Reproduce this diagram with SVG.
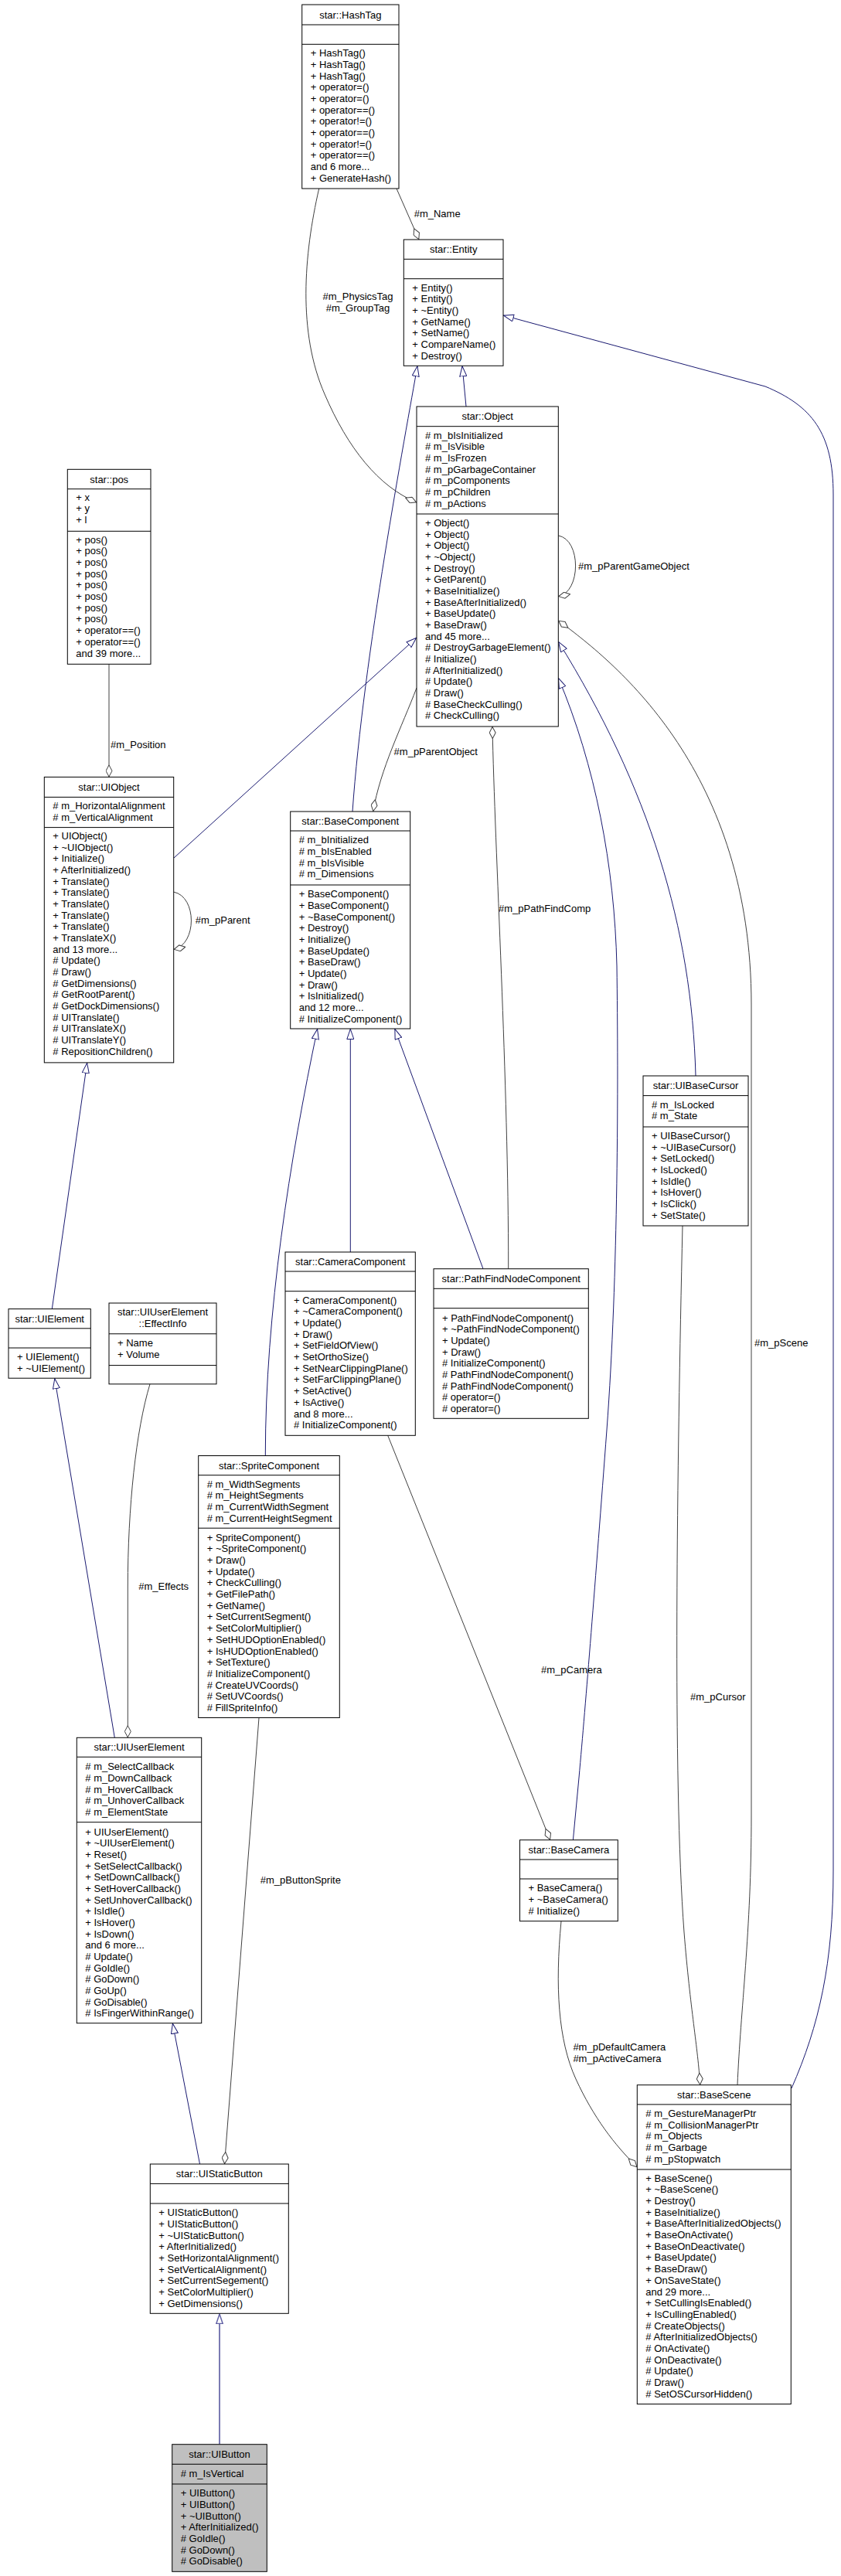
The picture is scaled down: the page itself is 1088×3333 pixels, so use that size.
<svg xmlns="http://www.w3.org/2000/svg" width="1088" height="3333" viewBox="0 0 1088 3333">
<style>
.bg{fill:#fff}
.box{fill:#fff;stroke:#000;stroke-width:1}
.boxg{fill:#bfbfbf;stroke:#000;stroke-width:1}
.sep{stroke:#000;stroke-width:1}
text{font-family:"Liberation Sans",Arial,sans-serif;font-size:13px;fill:#000}
.c{text-anchor:middle}
.e{text-anchor:end}
.inh{fill:none;stroke:#191970;stroke-width:1;marker-end:url(#tri)}
.inh2{fill:none;stroke:#6464a6;stroke-width:1.7;marker-end:url(#tri2)}
.agg{fill:none;stroke:#404040;stroke-width:1;marker-end:url(#dia)}
</style>
<defs>
<marker id="tri" viewBox="0 0 14 10" refX="14" refY="5" markerWidth="14" markerHeight="10" orient="auto" markerUnits="userSpaceOnUse"><path d="M0.5,0.5 L13.5,5 L0.5,9.5 z" fill="#fff" stroke="#191970"/></marker>
<marker id="tri2" viewBox="0 0 14 10" refX="14" refY="5" markerWidth="14" markerHeight="10" orient="auto" markerUnits="userSpaceOnUse"><path d="M0.8,0.8 L13.2,5 L0.8,9.2 z" fill="#fff" stroke="#6464a6" stroke-width="1.5"/></marker>
<marker id="dia" viewBox="0 0 16 9" refX="16" refY="4.5" markerWidth="16" markerHeight="9" orient="auto" markerUnits="userSpaceOnUse"><path d="M0.5,4.5 L8,0.5 L15.5,4.5 L8,8.5 z" fill="#fff" stroke="#404040"/></marker>
</defs>
<rect class="bg" x="0" y="0" width="1088" height="3333"/>

<g id="connectors">
<path class="inh" d="M603,526 L598,473.3"/>
<path class="inh" d="M456,1050 C470,850 525,560 540,473.3"/>
<path class="inh" d="M225,1110 L539,825"/>
<path class="inh" d="M900,1392 C895,1200 840,1020 722.3,830"/>
<path class="inh" d="M741.4,2380.7 L749,2300 C758,2200 770,2050 785,1850 C800,1650 800,1400 798,1250 C795,1120 770,990 722.3,877"/>
<path class="inh" d="M1024,2702 C1060,2620 1078,2540 1078,2420 L1078,640 C1078,560 1050,525 990,500 L651,408"/>
<path class="inh" d="M453.3,1620 L453.3,1331"/>
<path class="inh" d="M625,1641.7 L510.7,1331"/>
<path class="inh" d="M343.3,1883.5 C343.3,1700 375,1500 410.7,1331"/>
<path class="inh" d="M67.3,1693.6 L112.7,1374.9"/>
<path class="inh" d="M148.3,2248.3 L70.7,1783.2"/>
<path class="inh" d="M258.5,2800 L223.3,2617.7"/>
<path class="inh2" d="M284,3162.7 L284,2993.3"/>

<path class="agg" d="M513,244 L542,310"/>
<path class="agg" d="M412.7,244 C393,330 385,430 420,510 C450,580 490,630 539,650"/>
<path class="agg" d="M141,859.3 L141,1005.4"/>
<path class="agg" d="M722.3,693 C752,698 752,766 722.3,771.7"/>
<path class="agg" d="M224.7,1154.1 C255,1160 255,1222 224.7,1228.5"/>
<path class="agg" d="M539,890 C520,940 492,995 482.7,1050"/>
<path class="agg" d="M657.7,1641.7 C658,1400 640,1100 637,940"/>
<path class="agg" d="M501.7,1857.3 L711.8,2380.7"/>
<path class="agg" d="M335,2222.5 L290.5,2800"/>
<path class="agg" d="M194,1790.8 C176,1850 165.3,1950 165.3,2054 L165.3,2248.3"/>
<path class="agg" d="M726,2485.7 C718,2570 722,2640 745,2690 C768,2740 795,2775 824.3,2804"/>
<path class="agg" d="M883,1586 C876,1900 870,2300 885,2500 C893,2600 903,2650 905.7,2697.7"/>
<path class="agg" d="M954,2697.7 C958,2600 972,2500 972,2350 L972,1300 C972,1000 800,860 722.3,803"/>

<text x="535.7" y="281.2">#m_Name</text>
<text class="c" x="463" y="387.8">#m_PhysicsTag</text>
<text class="c" x="463" y="402.8">#m_GroupTag</text>
<text x="143" y="967.8">#m_Position</text>
<text x="748" y="737.2">#m_pParentGameObject</text>
<text x="252.7" y="1194.8">#m_pParent</text>
<text class="e" x="618" y="977.2">#m_pParentObject</text>
<text x="645" y="1179.5">#m_pPathFindComp</text>
<text x="700" y="2165">#m_pCamera</text>
<text x="179.3" y="2056.8">#m_Effects</text>
<text x="336.8" y="2437.2">#m_pButtonSprite</text>
<text x="741.4" y="2652.8">#m_pDefaultCamera</text>
<text x="741.4" y="2667.8">#m_pActiveCamera</text>
<text x="976" y="1741.8">#m_pScene</text>
<text x="893" y="2200">#m_pCursor</text>
</g>

<g id="HashTag">
<rect class="box" x="390.7" y="6" width="125.3" height="238"/>
<line class="sep" x1="390.7" y1="32" x2="516" y2="32"/>
<line class="sep" x1="390.7" y1="57.3" x2="516" y2="57.3"/>
<text class="c" x="453.3" y="23.5">star::HashTag</text>
<text x="401.7" y="73.2"><tspan x="401.7">+ HashTag()</tspan><tspan x="401.7" dy="14.67">+ HashTag()</tspan><tspan x="401.7" dy="14.67">+ HashTag()</tspan><tspan x="401.7" dy="14.67">+ operator=()</tspan><tspan x="401.7" dy="14.67">+ operator=()</tspan><tspan x="401.7" dy="14.67">+ operator==()</tspan><tspan x="401.7" dy="14.67">+ operator!=()</tspan><tspan x="401.7" dy="14.67">+ operator==()</tspan><tspan x="401.7" dy="14.67">+ operator!=()</tspan><tspan x="401.7" dy="14.67">+ operator==()</tspan><tspan x="401.7" dy="14.67">and 6 more...</tspan><tspan x="401.7" dy="14.67">+ GenerateHash()</tspan></text>
</g>

<g id="Entity">
<rect class="box" x="522.3" y="310" width="128.7" height="163.3"/>
<line class="sep" x1="522.3" y1="335.3" x2="651" y2="335.3"/>
<line class="sep" x1="522.3" y1="360.7" x2="651" y2="360.7"/>
<text class="c" x="586.7" y="327.1">star::Entity</text>
<text x="533.3" y="376.8"><tspan x="533.3">+ Entity()</tspan><tspan x="533.3" dy="14.67">+ Entity()</tspan><tspan x="533.3" dy="14.67">+ ~Entity()</tspan><tspan x="533.3" dy="14.67">+ GetName()</tspan><tspan x="533.3" dy="14.67">+ SetName()</tspan><tspan x="533.3" dy="14.67">+ CompareName()</tspan><tspan x="533.3" dy="14.67">+ Destroy()</tspan></text>
</g>

<g id="pos">
<rect class="box" x="87.3" y="607.3" width="107.7" height="252"/>
<line class="sep" x1="87.3" y1="632.7" x2="195" y2="632.7"/>
<line class="sep" x1="87.3" y1="687.3" x2="195" y2="687.3"/>
<text class="c" x="141.2" y="624.5">star::pos</text>
<text x="98.3" y="647.8"><tspan x="98.3">+ x</tspan><tspan x="98.3" dy="14.67">+ y</tspan><tspan x="98.3" dy="14.67">+ l</tspan></text>
<text x="98.3" y="702.8"><tspan x="98.3">+ pos()</tspan><tspan x="98.3" dy="14.67">+ pos()</tspan><tspan x="98.3" dy="14.67">+ pos()</tspan><tspan x="98.3" dy="14.67">+ pos()</tspan><tspan x="98.3" dy="14.67">+ pos()</tspan><tspan x="98.3" dy="14.67">+ pos()</tspan><tspan x="98.3" dy="14.67">+ pos()</tspan><tspan x="98.3" dy="14.67">+ pos()</tspan><tspan x="98.3" dy="14.67">+ operator==()</tspan><tspan x="98.3" dy="14.67">+ operator==()</tspan><tspan x="98.3" dy="14.67">and 39 more...</tspan></text>
</g>

<g id="Object">
<rect class="box" x="539" y="526" width="183.3" height="414"/>
<line class="sep" x1="539" y1="551.7" x2="722.3" y2="551.7"/>
<line class="sep" x1="539" y1="665" x2="722.3" y2="665"/>
<text class="c" x="630.7" y="543.3">star::Object</text>
<text x="550" y="567.8"><tspan x="550"># m_bIsInitialized</tspan><tspan x="550" dy="14.67"># m_IsVisible</tspan><tspan x="550" dy="14.67"># m_IsFrozen</tspan><tspan x="550" dy="14.67"># m_pGarbageContainer</tspan><tspan x="550" dy="14.67"># m_pComponents</tspan><tspan x="550" dy="14.67"># m_pChildren</tspan><tspan x="550" dy="14.67"># m_pActions</tspan></text>
<text x="550" y="681"><tspan x="550">+ Object()</tspan><tspan x="550" dy="14.67">+ Object()</tspan><tspan x="550" dy="14.67">+ Object()</tspan><tspan x="550" dy="14.67">+ ~Object()</tspan><tspan x="550" dy="14.67">+ Destroy()</tspan><tspan x="550" dy="14.67">+ GetParent()</tspan><tspan x="550" dy="14.67">+ BaseInitialize()</tspan><tspan x="550" dy="14.67">+ BaseAfterInitialized()</tspan><tspan x="550" dy="14.67">+ BaseUpdate()</tspan><tspan x="550" dy="14.67">+ BaseDraw()</tspan><tspan x="550" dy="14.67">and 45 more...</tspan><tspan x="550" dy="14.67"># DestroyGarbageElement()</tspan><tspan x="550" dy="14.67"># Initialize()</tspan><tspan x="550" dy="14.67"># AfterInitialized()</tspan><tspan x="550" dy="14.67"># Update()</tspan><tspan x="550" dy="14.67"># Draw()</tspan><tspan x="550" dy="14.67"># BaseCheckCulling()</tspan><tspan x="550" dy="14.67"># CheckCulling()</tspan></text>
</g>

<g id="UIObject">
<rect class="box" x="57.3" y="1005.4" width="167.4" height="369.5"/>
<line class="sep" x1="57.3" y1="1031.4" x2="224.7" y2="1031.4"/>
<line class="sep" x1="57.3" y1="1070.6" x2="224.7" y2="1070.6"/>
<text class="c" x="141" y="1022.5">star::UIObject</text>
<text x="68.3" y="1047"><tspan x="68.3"># m_HorizontalAlignment</tspan><tspan x="68.3" dy="14.67"># m_VerticalAlignment</tspan></text>
<text x="68.3" y="1085.9"><tspan x="68.3">+ UIObject()</tspan><tspan x="68.3" dy="14.67">+ ~UIObject()</tspan><tspan x="68.3" dy="14.67">+ Initialize()</tspan><tspan x="68.3" dy="14.67">+ AfterInitialized()</tspan><tspan x="68.3" dy="14.67">+ Translate()</tspan><tspan x="68.3" dy="14.67">+ Translate()</tspan><tspan x="68.3" dy="14.67">+ Translate()</tspan><tspan x="68.3" dy="14.67">+ Translate()</tspan><tspan x="68.3" dy="14.67">+ Translate()</tspan><tspan x="68.3" dy="14.67">+ TranslateX()</tspan><tspan x="68.3" dy="14.67">and 13 more...</tspan><tspan x="68.3" dy="14.67"># Update()</tspan><tspan x="68.3" dy="14.67"># Draw()</tspan><tspan x="68.3" dy="14.67"># GetDimensions()</tspan><tspan x="68.3" dy="14.67"># GetRootParent()</tspan><tspan x="68.3" dy="14.67"># GetDockDimensions()</tspan><tspan x="68.3" dy="14.67"># UITranslate()</tspan><tspan x="68.3" dy="14.67"># UITranslateX()</tspan><tspan x="68.3" dy="14.67"># UITranslateY()</tspan><tspan x="68.3" dy="14.67"># RepositionChildren()</tspan></text>
</g>

<g id="BaseComponent">
<rect class="box" x="375.7" y="1050" width="155" height="281"/>
<line class="sep" x1="375.7" y1="1075" x2="530.7" y2="1075"/>
<line class="sep" x1="375.7" y1="1145" x2="530.7" y2="1145"/>
<text class="c" x="453.2" y="1067">star::BaseComponent</text>
<text x="386.7" y="1091.2"><tspan x="386.7"># m_bInitialized</tspan><tspan x="386.7" dy="14.67"># m_bIsEnabled</tspan><tspan x="386.7" dy="14.67"># m_bIsVisible</tspan><tspan x="386.7" dy="14.67"># m_Dimensions</tspan></text>
<text x="386.7" y="1161.2"><tspan x="386.7">+ BaseComponent()</tspan><tspan x="386.7" dy="14.67">+ BaseComponent()</tspan><tspan x="386.7" dy="14.67">+ ~BaseComponent()</tspan><tspan x="386.7" dy="14.67">+ Destroy()</tspan><tspan x="386.7" dy="14.67">+ Initialize()</tspan><tspan x="386.7" dy="14.67">+ BaseUpdate()</tspan><tspan x="386.7" dy="14.67">+ BaseDraw()</tspan><tspan x="386.7" dy="14.67">+ Update()</tspan><tspan x="386.7" dy="14.67">+ Draw()</tspan><tspan x="386.7" dy="14.67">+ IsInitialized()</tspan><tspan x="386.7" dy="14.67">and 12 more...</tspan><tspan x="386.7" dy="14.67"># InitializeComponent()</tspan></text>
</g>

<g id="UIBaseCursor">
<rect class="box" x="832" y="1392" width="136" height="194"/>
<line class="sep" x1="832" y1="1417.6" x2="968" y2="1417.6"/>
<line class="sep" x1="832" y1="1458" x2="968" y2="1458"/>
<text class="c" x="900" y="1409">star::UIBaseCursor</text>
<text x="843" y="1433.7"><tspan x="843"># m_IsLocked</tspan><tspan x="843" dy="14.67"># m_State</tspan></text>
<text x="843" y="1474.1"><tspan x="843">+ UIBaseCursor()</tspan><tspan x="843" dy="14.67">+ ~UIBaseCursor()</tspan><tspan x="843" dy="14.67">+ SetLocked()</tspan><tspan x="843" dy="14.67">+ IsLocked()</tspan><tspan x="843" dy="14.67">+ IsIdle()</tspan><tspan x="843" dy="14.67">+ IsHover()</tspan><tspan x="843" dy="14.67">+ IsClick()</tspan><tspan x="843" dy="14.67">+ SetState()</tspan></text>
</g>

<g id="CameraComponent">
<rect class="box" x="369" y="1620" width="168.3" height="237.3"/>
<line class="sep" x1="369" y1="1645" x2="537.3" y2="1645"/>
<line class="sep" x1="369" y1="1670.7" x2="537.3" y2="1670.7"/>
<text class="c" x="453.2" y="1637">star::CameraComponent</text>
<text x="380" y="1686.8"><tspan x="380">+ CameraComponent()</tspan><tspan x="380" dy="14.67">+ ~CameraComponent()</tspan><tspan x="380" dy="14.67">+ Update()</tspan><tspan x="380" dy="14.67">+ Draw()</tspan><tspan x="380" dy="14.67">+ SetFieldOfView()</tspan><tspan x="380" dy="14.67">+ SetOrthoSize()</tspan><tspan x="380" dy="14.67">+ SetNearClippingPlane()</tspan><tspan x="380" dy="14.67">+ SetFarClippingPlane()</tspan><tspan x="380" dy="14.67">+ SetActive()</tspan><tspan x="380" dy="14.67">+ IsActive()</tspan><tspan x="380" dy="14.67">and 8 more...</tspan><tspan x="380" dy="14.67"># InitializeComponent()</tspan></text>
</g>

<g id="PathFindNodeComponent">
<rect class="box" x="561" y="1641.7" width="200.3" height="193.6"/>
<line class="sep" x1="561" y1="1667.3" x2="761.3" y2="1667.3"/>
<line class="sep" x1="561" y1="1692.7" x2="761.3" y2="1692.7"/>
<text class="c" x="661.2" y="1659">star::PathFindNodeComponent</text>
<text x="572" y="1709.5"><tspan x="572">+ PathFindNodeComponent()</tspan><tspan x="572" dy="14.67">+ ~PathFindNodeComponent()</tspan><tspan x="572" dy="14.67">+ Update()</tspan><tspan x="572" dy="14.67">+ Draw()</tspan><tspan x="572" dy="14.67"># InitializeComponent()</tspan><tspan x="572" dy="14.67"># PathFindNodeComponent()</tspan><tspan x="572" dy="14.67"># PathFindNodeComponent()</tspan><tspan x="572" dy="14.67"># operator=()</tspan><tspan x="572" dy="14.67"># operator=()</tspan></text>
</g>

<g id="UIElement">
<rect class="box" x="11" y="1693.6" width="106.3" height="89.6"/>
<line class="sep" x1="11" y1="1718.8" x2="117.3" y2="1718.8"/>
<line class="sep" x1="11" y1="1744" x2="117.3" y2="1744"/>
<text class="c" x="64.2" y="1710.7">star::UIElement</text>
<text x="22" y="1760"><tspan x="22">+ UIElement()</tspan><tspan x="22" dy="14.67">+ ~UIElement()</tspan></text>
</g>

<g id="EffectInfo">
<rect class="box" x="141" y="1686" width="139" height="104.8"/>
<line class="sep" x1="141" y1="1725.8" x2="280" y2="1725.8"/>
<line class="sep" x1="141" y1="1766.6" x2="280" y2="1766.6"/>
<text class="c" x="210.5" y="1702.1">star::UIUserElement</text>
<text class="c" x="210.5" y="1716.7">::EffectInfo</text>
<text x="152" y="1741.9"><tspan x="152">+ Name</tspan><tspan x="152" dy="14.67">+ Volume</tspan></text>
</g>

<g id="SpriteComponent">
<rect class="box" x="256.7" y="1883.5" width="182.6" height="339"/>
<line class="sep" x1="256.7" y1="1908.7" x2="439.3" y2="1908.7"/>
<line class="sep" x1="256.7" y1="1977.2" x2="439.3" y2="1977.2"/>
<text class="c" x="348" y="1900.6">star::SpriteComponent</text>
<text x="267.7" y="1924.8"><tspan x="267.7"># m_WidthSegments</tspan><tspan x="267.7" dy="14.67"># m_HeightSegments</tspan><tspan x="267.7" dy="14.67"># m_CurrentWidthSegment</tspan><tspan x="267.7" dy="14.67"># m_CurrentHeightSegment</tspan></text>
<text x="267.7" y="1993.8"><tspan x="267.7">+ SpriteComponent()</tspan><tspan x="267.7" dy="14.67">+ ~SpriteComponent()</tspan><tspan x="267.7" dy="14.67">+ Draw()</tspan><tspan x="267.7" dy="14.67">+ Update()</tspan><tspan x="267.7" dy="14.67">+ CheckCulling()</tspan><tspan x="267.7" dy="14.67">+ GetFilePath()</tspan><tspan x="267.7" dy="14.67">+ GetName()</tspan><tspan x="267.7" dy="14.67">+ SetCurrentSegment()</tspan><tspan x="267.7" dy="14.67">+ SetColorMultiplier()</tspan><tspan x="267.7" dy="14.67">+ SetHUDOptionEnabled()</tspan><tspan x="267.7" dy="14.67">+ IsHUDOptionEnabled()</tspan><tspan x="267.7" dy="14.67">+ SetTexture()</tspan><tspan x="267.7" dy="14.67"># InitializeComponent()</tspan><tspan x="267.7" dy="14.67"># CreateUVCoords()</tspan><tspan x="267.7" dy="14.67"># SetUVCoords()</tspan><tspan x="267.7" dy="14.67"># FillSpriteInfo()</tspan></text>
</g>

<g id="UIUserElement">
<rect class="box" x="99.3" y="2248.3" width="161.4" height="369.4"/>
<line class="sep" x1="99.3" y1="2273.3" x2="260.7" y2="2273.3"/>
<line class="sep" x1="99.3" y1="2357.7" x2="260.7" y2="2357.7"/>
<text class="c" x="180" y="2265.3">star::UIUserElement</text>
<text x="110.3" y="2290.2"><tspan x="110.3"># m_SelectCallback</tspan><tspan x="110.3" dy="14.67"># m_DownCallback</tspan><tspan x="110.3" dy="14.67"># m_HoverCallback</tspan><tspan x="110.3" dy="14.67"># m_UnhoverCallback</tspan><tspan x="110.3" dy="14.67"># m_ElementState</tspan></text>
<text x="110.3" y="2374.5"><tspan x="110.3">+ UIUserElement()</tspan><tspan x="110.3" dy="14.67">+ ~UIUserElement()</tspan><tspan x="110.3" dy="14.67">+ Reset()</tspan><tspan x="110.3" dy="14.67">+ SetSelectCallback()</tspan><tspan x="110.3" dy="14.67">+ SetDownCallback()</tspan><tspan x="110.3" dy="14.67">+ SetHoverCallback()</tspan><tspan x="110.3" dy="14.67">+ SetUnhoverCallback()</tspan><tspan x="110.3" dy="14.67">+ IsIdle()</tspan><tspan x="110.3" dy="14.67">+ IsHover()</tspan><tspan x="110.3" dy="14.67">+ IsDown()</tspan><tspan x="110.3" dy="14.67">and 6 more...</tspan><tspan x="110.3" dy="14.67"># Update()</tspan><tspan x="110.3" dy="14.67"># GoIdle()</tspan><tspan x="110.3" dy="14.67"># GoDown()</tspan><tspan x="110.3" dy="14.67"># GoUp()</tspan><tspan x="110.3" dy="14.67"># GoDisable()</tspan><tspan x="110.3" dy="14.67"># IsFingerWithinRange()</tspan></text>
</g>

<g id="BaseCamera">
<rect class="box" x="672.5" y="2380.7" width="126.8" height="105"/>
<line class="sep" x1="672.5" y1="2406" x2="799.3" y2="2406"/>
<line class="sep" x1="672.5" y1="2431" x2="799.3" y2="2431"/>
<text class="c" x="735.9" y="2397.8">star::BaseCamera</text>
<text x="683.5" y="2447.2"><tspan x="683.5">+ BaseCamera()</tspan><tspan x="683.5" dy="14.67">+ ~BaseCamera()</tspan><tspan x="683.5" dy="14.67"># Initialize()</tspan></text>
</g>

<g id="BaseScene">
<rect class="box" x="824.3" y="2697.7" width="199" height="412.8"/>
<line class="sep" x1="824.3" y1="2722.9" x2="1023.3" y2="2722.9"/>
<line class="sep" x1="824.3" y1="2807" x2="1023.3" y2="2807"/>
<text class="c" x="923.8" y="2714.8">star::BaseScene</text>
<text x="835.3" y="2739.1"><tspan x="835.3"># m_GestureManagerPtr</tspan><tspan x="835.3" dy="14.67"># m_CollisionManagerPtr</tspan><tspan x="835.3" dy="14.67"># m_Objects</tspan><tspan x="835.3" dy="14.67"># m_Garbage</tspan><tspan x="835.3" dy="14.67"># m_pStopwatch</tspan></text>
<text x="835.3" y="2822.8"><tspan x="835.3">+ BaseScene()</tspan><tspan x="835.3" dy="14.67">+ ~BaseScene()</tspan><tspan x="835.3" dy="14.67">+ Destroy()</tspan><tspan x="835.3" dy="14.67">+ BaseInitialize()</tspan><tspan x="835.3" dy="14.67">+ BaseAfterInitializedObjects()</tspan><tspan x="835.3" dy="14.67">+ BaseOnActivate()</tspan><tspan x="835.3" dy="14.67">+ BaseOnDeactivate()</tspan><tspan x="835.3" dy="14.67">+ BaseUpdate()</tspan><tspan x="835.3" dy="14.67">+ BaseDraw()</tspan><tspan x="835.3" dy="14.67">+ OnSaveState()</tspan><tspan x="835.3" dy="14.67">and 29 more...</tspan><tspan x="835.3" dy="14.67">+ SetCullingIsEnabled()</tspan><tspan x="835.3" dy="14.67">+ IsCullingEnabled()</tspan><tspan x="835.3" dy="14.67"># CreateObjects()</tspan><tspan x="835.3" dy="14.67"># AfterInitializedObjects()</tspan><tspan x="835.3" dy="14.67"># OnActivate()</tspan><tspan x="835.3" dy="14.67"># OnDeactivate()</tspan><tspan x="835.3" dy="14.67"># Update()</tspan><tspan x="835.3" dy="14.67"># Draw()</tspan><tspan x="835.3" dy="14.67"># SetOSCursorHidden()</tspan></text>
</g>

<g id="UIStaticButton">
<rect class="box" x="194.3" y="2800" width="179" height="193.3"/>
<line class="sep" x1="194.3" y1="2825.4" x2="373.3" y2="2825.4"/>
<line class="sep" x1="194.3" y1="2851" x2="373.3" y2="2851"/>
<text class="c" x="283.8" y="2817.3">star::UIStaticButton</text>
<text x="205.3" y="2867.2"><tspan x="205.3">+ UIStaticButton()</tspan><tspan x="205.3" dy="14.67">+ UIStaticButton()</tspan><tspan x="205.3" dy="14.67">+ ~UIStaticButton()</tspan><tspan x="205.3" dy="14.67">+ AfterInitialized()</tspan><tspan x="205.3" dy="14.67">+ SetHorizontalAlignment()</tspan><tspan x="205.3" dy="14.67">+ SetVerticalAlignment()</tspan><tspan x="205.3" dy="14.67">+ SetCurrentSegement()</tspan><tspan x="205.3" dy="14.67">+ SetColorMultiplier()</tspan><tspan x="205.3" dy="14.67">+ GetDimensions()</tspan></text>
</g>

<g id="UIButton">
<rect class="boxg" x="222.7" y="3162.7" width="122.6" height="164.6"/>
<line class="sep" x1="222.7" y1="3188.3" x2="345.3" y2="3188.3"/>
<line class="sep" x1="222.7" y1="3214" x2="345.3" y2="3214"/>
<text class="c" x="284" y="3179.5">star::UIButton</text>
<text x="233.7" y="3205.2"># m_IsVertical</text>
<text x="233.7" y="3230.2"><tspan x="233.7">+ UIButton()</tspan><tspan x="233.7" dy="14.67">+ UIButton()</tspan><tspan x="233.7" dy="14.67">+ ~UIButton()</tspan><tspan x="233.7" dy="14.67">+ AfterInitialized()</tspan><tspan x="233.7" dy="14.67"># GoIdle()</tspan><tspan x="233.7" dy="14.67"># GoDown()</tspan><tspan x="233.7" dy="14.67"># GoDisable()</tspan></text>
</g>
</svg>
